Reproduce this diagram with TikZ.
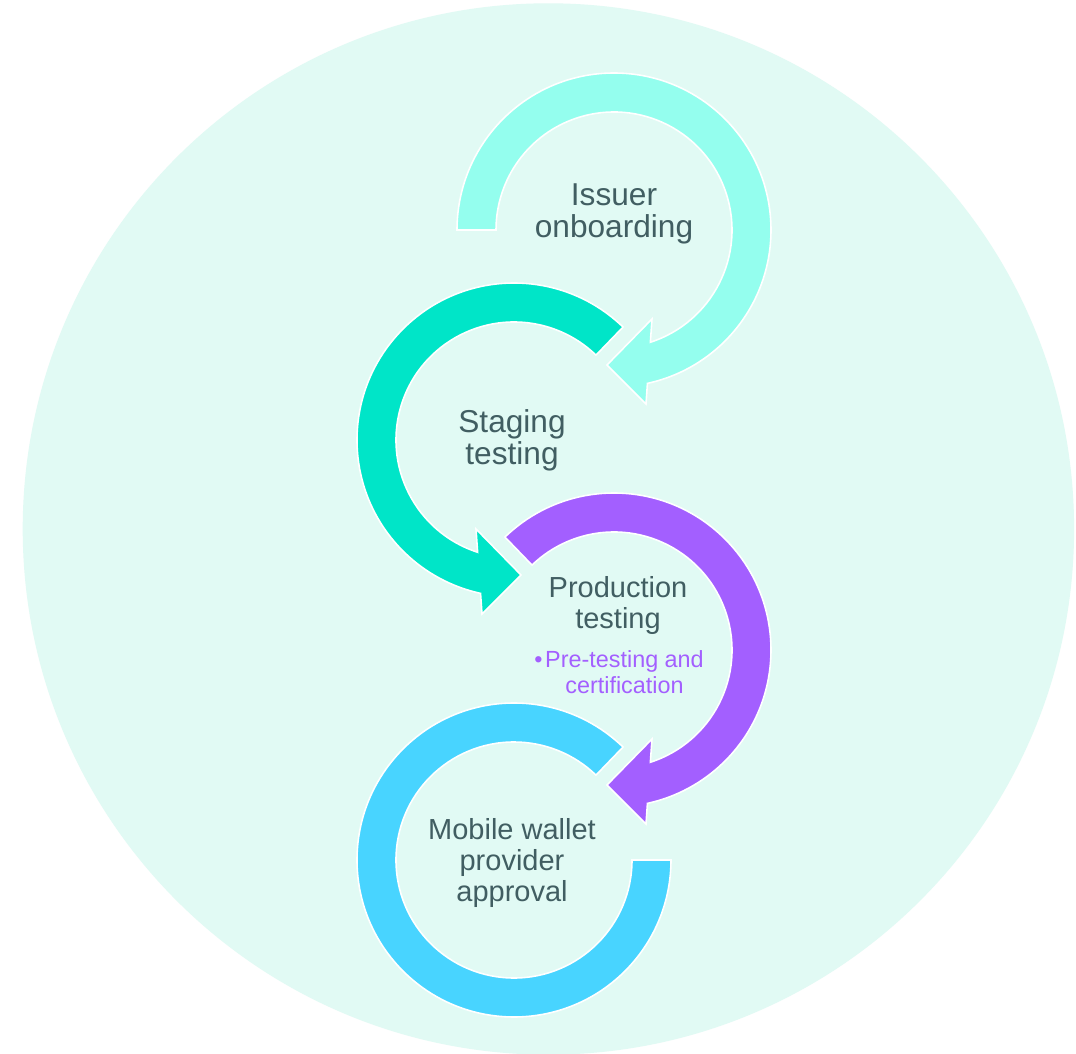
\documentclass[tikz,border=0pt]{standalone}
\usepackage{fontspec}
\setmainfont{Liberation Sans}
\definecolor{bgmint}{HTML}{E1FAF4}
\definecolor{colA}{HTML}{94FEEE}
\definecolor{colB}{HTML}{00E5C8}
\definecolor{colC}{HTML}{A35FFF}
\definecolor{colD}{HTML}{48D4FF}
\definecolor{txt}{HTML}{415E62}
\tikzset{
  ring/.style={draw=white, line width=0.9pt, line join=miter},
  lbl/.style={text=txt, align=center, font=\fontsize{18}{18.4}\selectfont, inner sep=0pt},
  lblsm/.style={text=txt, align=center, font=\fontsize{16.5}{17.6}\selectfont, inner sep=0pt},
  sub/.style={text=colC, align=center, font=\fontsize{13.3}{14.8}\selectfont, inner sep=0pt}
}
\begin{document}
\begin{tikzpicture}
\useasboundingbox (0,0) rectangle (21.52,-21.08);
\fill[white] (0,0) rectangle (21.52,-21.08);
% background circle
\fill[bgmint] (10.968,-10.58) circle[radius=10.514];
\coordinate (cA) at (12.28,-4.60);
\coordinate (cB) at (10.28,-8.80);
\coordinate (cC) at (12.28,-13.00);
\coordinate (cD) at (10.28,-17.20);
% Issuer onboarding (clockwise, head at lower right)
\begin{scope}[shift={(cA)}]
\path[fill=colA, ring] (180:3.14) arc[start angle=180, end angle=-77.7, radius=3.14]
  -- (0.64,-3.48) -- (-0.14,-2.70) -- (0.76,-1.78)
  -- (-72.05:2.36) arc[start angle=-72.05, end angle=180, radius=2.36] -- cycle;
\end{scope}
% Staging testing (counterclockwise, head at bottom)
\begin{scope}[shift={(cB)}]
\path[fill=colB, ring] (46:3.14) arc[start angle=46, end angle=257.7, radius=3.14]
  -- (-0.64,-3.48) -- (0.14,-2.70) -- (-0.76,-1.78)
  -- (252.05:2.36) arc[start angle=252.05, end angle=46, radius=2.36] -- cycle;
\end{scope}
% Production testing
\begin{scope}[shift={(cC)}]
\path[fill=colC, ring] (134:3.14) arc[start angle=134, end angle=-77.7, radius=3.14]
  -- (0.64,-3.48) -- (-0.14,-2.70) -- (0.76,-1.78)
  -- (-72.05:2.36) arc[start angle=-72.05, end angle=134, radius=2.36] -- cycle;
\end{scope}
% Mobile wallet provider approval
\begin{scope}[shift={(cD)}]
\path[fill=colD, ring] (46:3.14) arc[start angle=46, end angle=360, radius=3.14]
  -- (0:2.36) arc[start angle=360, end angle=46, radius=2.36] -- cycle;
\end{scope}
% labels
\node[lbl] (tA) at (12.28,-4.28) {Issuer\\onboarding};
\node[lbl] (tB) at (10.24,-8.80) {Staging\\testing};
\node[lblsm] (tC) at (12.36,-12.11) {Production\\testing};
\node[sub] (tC2) at (12.49,-13.45) {\llap{\textbullet\hspace{0.12em}}Pre-testing and\\certification};
\node[lblsm] (tD) at (10.24,-17.26) {Mobile wallet\\provider\\approval};
\end{tikzpicture}
\end{document}
